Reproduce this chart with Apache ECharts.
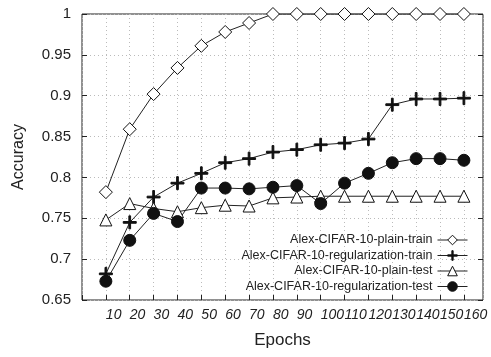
<!DOCTYPE html>
<html>
<head>
<meta charset="utf-8">
<script src="https://cdn.jsdelivr.net/npm/echarts@6/dist/echarts.min.js"></script>
<style>
  html, body { margin: 0; padding: 0; background: #fff; }
  #chart { width: 491px; height: 357px; }
</style>
</head>
<body>
<div id="chart"></div>
<script>
// epochs on the x axis
var epochs = [10, 20, 30, 40, 50, 60, 70, 80, 90, 100, 110, 120, 130, 140, 150, 160]

var plainTrain = [0.782, 0.859, 0.902, 0.934, 0.961, 0.978, 0.989, 1, 1, 1, 1, 1, 1, 1, 1, 1]
var regTrain = [0.682, 0.745, 0.776, 0.793, 0.805, 0.818, 0.823, 0.831, 0.834, 0.840, 0.842, 0.847, 0.889, 0.896, 0.896, 0.897]
var plainTest = [0.748, 0.768, 0.762, 0.758, 0.763, 0.766, 0.765, 0.775, 0.776, 0.777, 0.777, 0.777, 0.777, 0.777, 0.777, 0.777]
var regTest = [0.673, 0.723, 0.756, 0.746, 0.787, 0.787, 0.786, 0.788, 0.790, 0.768, 0.793, 0.805, 0.818, 0.823, 0.823, 0.821]

var seriesNames = [
  'Alex-CIFAR-10-plain-train',
  'Alex-CIFAR-10-regularization-train',
  'Alex-CIFAR-10-plain-test',
  'Alex-CIFAR-10-regularization-test'
]

var plusPath = 'path://M5.2,0H6.8V12H5.2Z M0,5.2H12V6.8H0Z'

function pairs(vals) {
  return vals.map(function(v, i) { return [epochs[i], v] })
}

var chart = echarts.init(document.getElementById('chart'))

var gridLine = { show: true, lineStyle: { color: '#bbb', type: [1, 3], width: 1 } }
var font = 'Liberation Sans, Arial, sans-serif'

function makeSeries(name, vals, symbol, size, fill) {
  return {
    name: name,
    type: 'line',
    data: pairs(vals),
    symbol: symbol,
    symbolSize: size,
    showAllSymbol: true,
    lineStyle: { color: '#222', width: 1 },
    itemStyle: { color: fill, borderColor: '#111', borderWidth: 1 },
    emphasis: { disabled: true },
    animation: false
  }
}

chart.setOption({
  backgroundColor: '#fff',
  textStyle: { fontFamily: font },
  grid: { left: 82, right: 8, top: 14, bottom: 57, show: true, borderColor: '#222', borderWidth: 1 },
  legend: {
    right: 18,
    bottom: 59,
    orient: 'vertical',
    align: 'right',
    itemGap: 2.5,
    itemWidth: 30,
    itemHeight: 12,
    lineStyle: { width: 1 },
    itemStyle: { borderWidth: 1 },
    textStyle: { fontSize: 12.5, color: '#222', fontFamily: font },
    data: seriesNames
  },
  xAxis: {
    type: 'value',
    min: 0,
    max: 168,
    interval: 10,
    name: 'Epochs',
    nameLocation: 'middle',
    nameGap: 32,
    nameTextStyle: { fontSize: 17, color: '#222' },
    axisLine: { show: false },
    axisTick: { inside: true, length: 5, lineStyle: { color: '#222' } },
    axisLabel: {
      fontSize: 14,
      fontStyle: 'italic',
      color: '#222',
      align: 'left',
      margin: 8,
      formatter: function(v) { return v === 0 ? '' : String(v) }
    },
    splitLine: gridLine
  },
  yAxis: [{
    type: 'value',
    min: 0.65,
    max: 1,
    interval: 0.05,
    name: 'Accuracy',
    nameLocation: 'middle',
    nameGap: 55,
    nameTextStyle: { fontSize: 16, color: '#222' },
    axisLine: { show: false },
    axisTick: { inside: true, length: 5, lineStyle: { color: '#222' } },
    axisLabel: { fontSize: 15, color: '#222', margin: 11 },
    splitLine: gridLine
  }, {
    type: 'value',
    position: 'right',
    min: 0.65,
    max: 1,
    interval: 0.05,
    axisLine: { show: false },
    axisTick: { inside: true, length: 5, lineStyle: { color: '#222' } },
    axisLabel: { show: false },
    splitLine: { show: false }
  }],
  series: [
    makeSeries(seriesNames[0], plainTrain, 'diamond', 13, '#fff'),
    makeSeries(seriesNames[1], regTrain, plusPath, 13, '#111'),
    makeSeries(seriesNames[2], plainTest, 'triangle', 12, '#fff'),
    makeSeries(seriesNames[3], regTest, 'circle', 12, '#111')
  ]
})
</script>
</body>
</html>
